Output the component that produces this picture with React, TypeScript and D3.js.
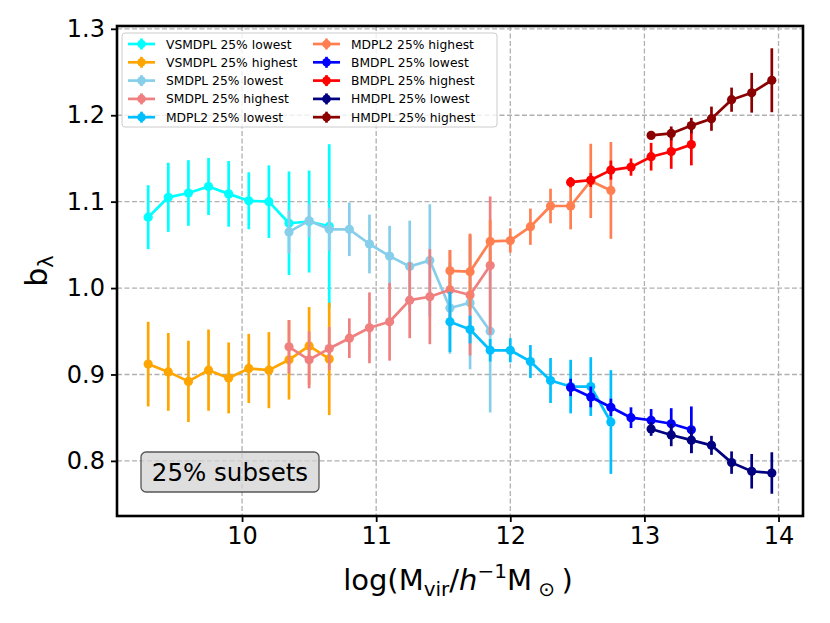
import { useEffect, useRef } from "react";
import * as d3 from "d3";

// mass bins (log M_vir / h^-1 M_sun)
const X_VSMDPL = [9.3, 9.45, 9.6, 9.75, 9.9, 10.05, 10.2, 10.35, 10.5, 10.65];
const X_SMDPL = [10.35, 10.5, 10.65, 10.8, 10.95, 11.1, 11.25, 11.4, 11.55, 11.7, 11.85];
const X_MDPL2 = [11.55, 11.7, 11.85, 12.0, 12.15, 12.3, 12.45, 12.6, 12.75];
const X_BMDPL = [12.45, 12.6, 12.75, 12.9, 13.05, 13.2, 13.35];
const X_HMDPL = [13.05, 13.2, 13.35, 13.5, 13.65, 13.8, 13.95];

const VSMDPL_LO = [1.082, 1.105, 1.110, 1.1175, 1.109, 1.101, 1.100, 1.075, 1.077, 1.0715];
const VSMDPL_LO_ERR = [0.037, 0.040, 0.038, 0.033, 0.038, 0.033, 0.042, 0.060, 0.059, 0.095];
const VSMDPL_HI = [0.912, 0.903, 0.892, 0.905, 0.896, 0.907, 0.905, 0.917, 0.933, 0.918];
const VSMDPL_HI_ERR = [0.049, 0.045, 0.047, 0.047, 0.041, 0.040, 0.044, 0.046, 0.045, 0.065];

const SMDPL_LO = [1.065, 1.078, 1.068, 1.068, 1.051, 1.037, 1.025, 1.032, 0.977, 0.983, 0.950];
const SMDPL_LO_ERR = [0.025, 0.019, 0.025, 0.031, 0.034, 0.035, 0.053, 0.065, 0.053, 0.077, 0.094];
const SMDPL_HI = [0.932, 0.917, 0.930, 0.942, 0.954, 0.961, 0.986, 0.990, 0.998, 0.992, 1.026];
const SMDPL_HI_ERR = [0.031, 0.033, 0.025, 0.023, 0.041, 0.045, 0.044, 0.055, 0.046, 0.070, 0.080];

const MDPL2_LO = [0.961, 0.952, 0.928, 0.928, 0.915, 0.893, 0.886, 0.886, 0.845];
const MDPL2_LO_ERR = [0.035, 0.016, 0.013, 0.014, 0.019, 0.026, 0.031, 0.034, 0.060];
const MDPL2_HI = [1.020, 1.019, 1.054, 1.055, 1.071, 1.095, 1.095, 1.124, 1.113];
const MDPL2_HI_ERR = [0.024, 0.044, 0.025, 0.014, 0.021, 0.020, 0.027, 0.043, 0.056];

const BMDPL_LO = [0.885, 0.874, 0.862, 0.850, 0.847, 0.843, 0.836];
const BMDPL_LO_ERR = [0.010, 0.012, 0.010, 0.012, 0.013, 0.018, 0.027];
const BMDPL_HI = [1.1225, 1.125, 1.1365, 1.140, 1.152, 1.158, 1.166];
const BMDPL_HI_ERR = [0.006, 0.008, 0.011, 0.010, 0.016, 0.020, 0.024];

const HMDPL_LO = [0.837, 0.830, 0.824, 0.818, 0.798, 0.788, 0.786];
const HMDPL_LO_ERR = [0.008, 0.013, 0.015, 0.011, 0.013, 0.020, 0.024];
const HMDPL_HI = [1.1767, 1.179, 1.188, 1.196, 1.218, 1.226, 1.2405];
const HMDPL_HI_ERR = [0.003, 0.008, 0.009, 0.014, 0.014, 0.023, 0.037];

const X_TICKS = [10, 11, 12, 13, 14];
const Y_TICKS = [0.8, 0.9, 1.0, 1.1, 1.2, 1.3];

interface Series { label: string; color: string; x: number[]; y: number[]; err: number[]; }

const SERIES: Series[] = [
  { label: "VSMDPL 25% lowest", color: "cyan", x: X_VSMDPL, y: VSMDPL_LO, err: VSMDPL_LO_ERR },
  { label: "VSMDPL 25% highest", color: "orange", x: X_VSMDPL, y: VSMDPL_HI, err: VSMDPL_HI_ERR },
  { label: "SMDPL 25% lowest", color: "skyblue", x: X_SMDPL, y: SMDPL_LO, err: SMDPL_LO_ERR },
  { label: "SMDPL 25% highest", color: "lightcoral", x: X_SMDPL, y: SMDPL_HI, err: SMDPL_HI_ERR },
  { label: "MDPL2 25% lowest", color: "deepskyblue", x: X_MDPL2, y: MDPL2_LO, err: MDPL2_LO_ERR },
  { label: "MDPL2 25% highest", color: "coral", x: X_MDPL2, y: MDPL2_HI, err: MDPL2_HI_ERR },
  { label: "BMDPL 25% lowest", color: "blue", x: X_BMDPL, y: BMDPL_LO, err: BMDPL_LO_ERR },
  { label: "BMDPL 25% highest", color: "red", x: X_BMDPL, y: BMDPL_HI, err: BMDPL_HI_ERR },
  { label: "HMDPL 25% lowest", color: "navy", x: X_HMDPL, y: HMDPL_LO, err: HMDPL_LO_ERR },
  { label: "HMDPL 25% highest", color: "darkred", x: X_HMDPL, y: HMDPL_HI, err: HMDPL_HI_ERR },
];

const FONT = "DejaVu Sans";

export default function App() {
  const svgRef = useRef<SVGSVGElement>(null);

  useEffect(() => {
    const svg = d3.select(svgRef.current);
    svg.selectAll("*").remove();

    const width = 830, height = 623;
    const margin = { top: 26, right: 27, bottom: 107, left: 117 };
    const W = width - margin.left - margin.right;
    const H = height - margin.top - margin.bottom;

    // matplotlib-style 5% padding around data incl. error bars
    const allX = SERIES.flatMap(s => s.x);
    const allLo = SERIES.flatMap(s => s.y.map((v, i) => v - s.err[i]));
    const allHi = SERIES.flatMap(s => s.y.map((v, i) => v + s.err[i]));
    const [x0, x1] = [d3.min(allX)!, d3.max(allX)!];
    const [y0, y1] = [d3.min(allLo)!, d3.max(allHi)!];
    const px = (x1 - x0) * 0.05, py = (y1 - y0) * 0.05;

    const xScale = d3.scaleLinear().domain([x0 - px, x1 + px]).range([0, W]);
    const yScale = d3.scaleLinear().domain([y0 - py, y1 + py]).range([H, 0]);

    const g = svg.append("g").attr("transform", `translate(${margin.left},${margin.top})`);

    // Grid
    g.selectAll(".vg").data(X_TICKS).enter().append("line")
      .attr("x1", d => xScale(d)).attr("x2", d => xScale(d))
      .attr("y1", 0).attr("y2", H)
      .attr("stroke", "#b0b0b0").attr("stroke-width", 1.3).attr("stroke-dasharray", "5,2.5");
    g.selectAll(".hg").data(Y_TICKS).enter().append("line")
      .attr("x1", 0).attr("x2", W)
      .attr("y1", d => yScale(d)).attr("y2", d => yScale(d))
      .attr("stroke", "#b0b0b0").attr("stroke-width", 1.3).attr("stroke-dasharray", "5,2.5");

    // Series: error bars, line, markers
    SERIES.forEach(s => {
      const pts = s.x.map((x, i) => ({ x, y: s.y[i], e: s.err[i] }));
      const sg = g.append("g");
      sg.selectAll("line").data(pts).enter().append("line")
        .attr("x1", d => xScale(d.x)).attr("x2", d => xScale(d.x))
        .attr("y1", d => yScale(d.y - d.e)).attr("y2", d => yScale(d.y + d.e))
        .attr("stroke", s.color).attr("stroke-width", 2.7);
      sg.append("path")
        .attr("d", d3.line<{ x: number; y: number }>().x(d => xScale(d.x)).y(d => yScale(d.y))(pts))
        .attr("fill", "none").attr("stroke", s.color).attr("stroke-width", 2.7)
        .attr("stroke-linejoin", "round");
      sg.selectAll("circle").data(pts).enter().append("circle")
        .attr("cx", d => xScale(d.x)).attr("cy", d => yScale(d.y))
        .attr("r", 4.6).attr("fill", s.color);
    });

    // Text box
    const bx = 141 - margin.left, by = 452 - margin.top;
    g.append("rect")
      .attr("x", bx).attr("y", by).attr("width", 178).attr("height", 40)
      .attr("rx", 5).attr("ry", 5)
      .attr("fill", "#d3d3d3").attr("fill-opacity", 0.75)
      .attr("stroke", "#555").attr("stroke-width", 1.3);
    g.append("text")
      .attr("x", bx + 89).attr("y", by + 28.5)
      .attr("text-anchor", "middle").attr("font-family", FONT).attr("font-size", 24.5)
      .text("25% subsets");

    // Legend
    const lx = 122 - margin.left, ly = 33 - margin.top;
    g.append("rect")
      .attr("x", lx).attr("y", ly).attr("width", 375).attr("height", 94)
      .attr("rx", 3).attr("fill", "white").attr("fill-opacity", 0.8)
      .attr("stroke", "#cccccc").attr("stroke-width", 1);
    SERIES.forEach((s, i) => {
      const col = Math.floor(i / 5), row = i % 5;
      const ex = lx + 6 + col * 185, ey = ly + 11 + row * 18.3;
      g.append("line").attr("x1", ex).attr("x2", ex + 27).attr("y1", ey).attr("y2", ey)
        .attr("stroke", s.color).attr("stroke-width", 2.7);
      g.append("line").attr("x1", ex + 13.5).attr("x2", ex + 13.5).attr("y1", ey - 5.5).attr("y2", ey + 5.5)
        .attr("stroke", s.color).attr("stroke-width", 2.7);
      g.append("circle").attr("cx", ex + 13.5).attr("cy", ey).attr("r", 4.3).attr("fill", s.color);
      g.append("text").attr("x", ex + 38).attr("y", ey + 4.5)
        .attr("font-family", FONT).attr("font-size", 12.3).attr("fill", "black")
        .text(s.label);
    });

    // Frame
    g.append("rect").attr("x", 0).attr("y", 0).attr("width", W).attr("height", H)
      .attr("fill", "none").attr("stroke", "black").attr("stroke-width", 2.6);

    // Axes
    g.append("g").attr("transform", `translate(0,${H})`)
      .call(d3.axisBottom(xScale).tickValues(X_TICKS).tickFormat(d3.format("d")).tickSize(6).tickPadding(5))
      .call(ax => ax.select(".domain").remove())
      .call(ax => ax.selectAll(".tick line").attr("stroke", "black").attr("stroke-width", 1.8))
      .call(ax => ax.selectAll(".tick text").attr("fill", "black").attr("font-size", 24).attr("font-family", FONT));
    g.append("g")
      .call(d3.axisLeft(yScale).tickValues(Y_TICKS).tickFormat(d3.format(".1f")).tickSize(6).tickPadding(6))
      .call(ax => ax.select(".domain").remove())
      .call(ax => ax.selectAll(".tick line").attr("stroke", "black").attr("stroke-width", 1.8))
      .call(ax => ax.selectAll(".tick text").attr("fill", "black").attr("font-size", 24).attr("font-family", FONT));

    // Axis labels
    const xl = svg.append("text")
      .attr("x", margin.left + W / 2 - 2).attr("y", 590)
      .attr("text-anchor", "middle").attr("font-family", FONT).attr("font-size", 29);
    xl.append("tspan").text("log(M");
    xl.append("tspan").attr("font-size", 20).attr("dy", 6).text("vir");
    xl.append("tspan").attr("dy", -6).text("/");
    xl.append("tspan").attr("font-style", "italic").text("h");
    xl.append("tspan").attr("font-size", 20).attr("dy", -12).text("−1");
    xl.append("tspan").attr("dy", 12).text("M");
    xl.append("tspan").attr("font-size", 20).attr("dy", 6).text(" ⊙ ");
    xl.append("tspan").attr("dy", -6).text(")");

    const yl = svg.append("text")
      .attr("transform", `translate(47,${margin.top + H / 2}) rotate(-90)`)
      .attr("text-anchor", "middle").attr("font-family", FONT).attr("font-size", 30);
    yl.append("tspan").text("b");
    yl.append("tspan").attr("font-size", 21).attr("dy", 6).text("λ");
  }, []);

  return (
    <svg ref={svgRef} width={830} height={623}
      style={{ position: "absolute", left: 0, top: 0, background: "white" }} />
  );
}
